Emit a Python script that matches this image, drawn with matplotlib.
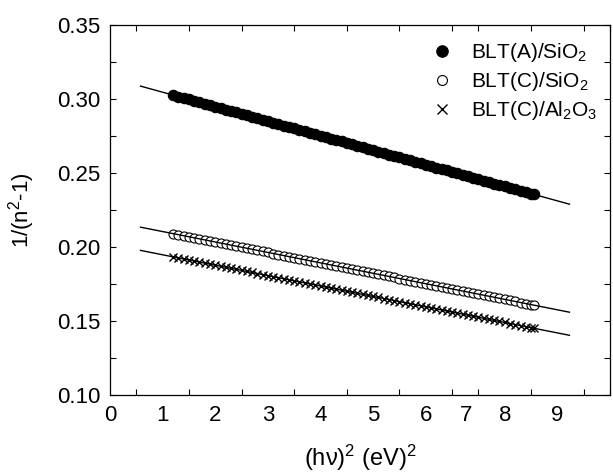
import matplotlib.pyplot as plt
import numpy as np

plt.rcParams['font.family'] = ['Liberation Sans', 'DejaVu Sans']
plt.rcParams['mathtext.fontset'] = 'custom'
plt.rcParams['mathtext.rm'] = 'Liberation Sans'
plt.rcParams['mathtext.it'] = 'Liberation Sans:italic'

# (hv)^2 in eV^2, shared by all three films
hv2 = [1.20, 1.30, 1.40, 1.50, 1.60, 1.70, 1.80, 1.90, 2.00, 2.10,
       2.20, 2.30, 2.40, 2.50, 2.60, 2.70, 2.80, 2.90, 3.00, 3.10,
       3.20, 3.30, 3.40, 3.50, 3.60, 3.70, 3.80, 3.90, 4.00, 4.10,
       4.20, 4.30, 4.40, 4.50, 4.60, 4.70, 4.80, 4.90, 5.00, 5.10,
       5.20, 5.30, 5.40, 5.50, 5.60, 5.70, 5.80, 5.90, 6.00, 6.10,
       6.20, 6.30, 6.40, 6.50, 6.60, 6.70, 6.80, 6.90, 7.00, 7.10,
       7.20, 7.30, 7.40, 7.50, 7.60, 7.70, 7.80, 7.90, 8.00, 8.05]

# 1/(n^2-1)
blt_a_sio2 = [0.3027, 0.3017, 0.3007, 0.2997, 0.2987, 0.2978, 0.2968, 0.2958, 0.2948, 0.2938,
              0.2929, 0.2919, 0.2909, 0.2899, 0.2889, 0.2880, 0.2870, 0.2860, 0.2850, 0.2840,
              0.2831, 0.2821, 0.2811, 0.2801, 0.2792, 0.2782, 0.2772, 0.2762, 0.2752, 0.2743,
              0.2733, 0.2723, 0.2713, 0.2703, 0.2694, 0.2684, 0.2674, 0.2664, 0.2654, 0.2645,
              0.2635, 0.2625, 0.2615, 0.2606, 0.2596, 0.2586, 0.2576, 0.2566, 0.2557, 0.2547,
              0.2537, 0.2527, 0.2517, 0.2508, 0.2498, 0.2488, 0.2478, 0.2468, 0.2459, 0.2449,
              0.2439, 0.2429, 0.2420, 0.2410, 0.2400, 0.2390, 0.2380, 0.2371, 0.2361, 0.2356]

blt_c_sio2 = [0.2090, 0.2083, 0.2076, 0.2069, 0.2062, 0.2055, 0.2048, 0.2041, 0.2034, 0.2027,
              0.2020, 0.2013, 0.2006, 0.1999, 0.1992, 0.1985, 0.1978, 0.1971, 0.1963, 0.1956,
              0.1949, 0.1942, 0.1935, 0.1928, 0.1921, 0.1914, 0.1907, 0.1900, 0.1893, 0.1886,
              0.1879, 0.1872, 0.1865, 0.1858, 0.1851, 0.1844, 0.1837, 0.1830, 0.1823, 0.1815,
              0.1808, 0.1801, 0.1794, 0.1787, 0.1780, 0.1773, 0.1766, 0.1759, 0.1752, 0.1745,
              0.1738, 0.1731, 0.1724, 0.1717, 0.1710, 0.1703, 0.1696, 0.1689, 0.1681, 0.1674,
              0.1667, 0.1660, 0.1653, 0.1646, 0.1639, 0.1632, 0.1625, 0.1618, 0.1611, 0.1607]

blt_c_al2o3 = [0.1934, 0.1926, 0.1919, 0.1912, 0.1905, 0.1898, 0.1891, 0.1884, 0.1877, 0.1870,
               0.1863, 0.1856, 0.1849, 0.1842, 0.1835, 0.1828, 0.1821, 0.1814, 0.1807, 0.1800,
               0.1793, 0.1786, 0.1779, 0.1772, 0.1765, 0.1758, 0.1750, 0.1743, 0.1736, 0.1729,
               0.1722, 0.1715, 0.1708, 0.1701, 0.1694, 0.1687, 0.1680, 0.1673, 0.1666, 0.1659,
               0.1652, 0.1645, 0.1638, 0.1631, 0.1624, 0.1617, 0.1610, 0.1603, 0.1596, 0.1589,
               0.1582, 0.1574, 0.1567, 0.1560, 0.1553, 0.1546, 0.1539, 0.1532, 0.1525, 0.1518,
               0.1511, 0.1504, 0.1497, 0.1490, 0.1483, 0.1476, 0.1469, 0.1462, 0.1455, 0.1451]

labels = ['BLT(A)/SiO$_2$', 'BLT(C)/SiO$_2$', 'BLT(C)/Al$_2$O$_3$']

# extent of the linear fits
fit_range = [0.58, 8.73]

# x tick labels as printed (7, 8, 9 sit off the tick marks in the original)
xlabel_pos = [0, 1, 2, 3, 4, 5, 6, 6.76, 7.5, 8.5]
xlabel_txt = ['0', '1', '2', '3', '4', '5', '6', '7', '8', '9']

fig = plt.figure(figsize=(6.13, 4.73), dpi=100)
ax = fig.add_axes([0.1794, 0.1649, 0.8157, 0.7822])

x = np.array(hv2)
fx = np.array(fit_range)
series = [blt_a_sio2, blt_c_sio2, blt_c_al2o3]
styles = [dict(marker='o', ms=7.5, mfc='black', mec='black', mew=0.8),
          dict(marker='o', ms=6.5, mfc='white', mec='black', mew=0.8),
          dict(marker='x', ms=6, mec='black', mew=1.0)]

for y, st, lab in zip(series, styles, labels):
    ax.plot(x, y, ls='none', label=lab, **st)
    k, b = np.polyfit(x, y, 1)
    ax.plot(fx, k * fx + b, color='black', lw=1.0, zorder=3)

ax.set_xlim(0, 9.5)
ax.set_ylim(0.10, 0.35)

ax.set_xticks(np.arange(0, 9.51, 0.5), minor=True)
ax.set_xticks(xlabel_pos)
ax.set_xticklabels(xlabel_txt)
ax.tick_params(axis='x', which='major', length=0, pad=7)
ax.tick_params(axis='x', which='minor', direction='in', length=4.5, width=0.8,
               top=True, bottom=True)

ax.set_yticks(np.arange(0.10, 0.351, 0.05))
ax.set_yticks(np.arange(0.10, 0.351, 0.025), minor=True)
ax.yaxis.set_major_formatter(plt.FormatStrFormatter('%.2f'))
ax.tick_params(axis='y', which='both', direction='in', length=4.5, width=0.8,
               left=True, right=True, pad=7)
ax.tick_params(labelsize=16)

for s in ax.spines.values():
    s.set_linewidth(0.9)

ax.set_xlabel('(h\u03bd)$^2$ (eV)$^2$', fontsize=17, labelpad=12)
ax.set_ylabel('1/(n$^2$-1)', fontsize=16, labelpad=14)

ax.legend(loc='upper right', frameon=False, fontsize=15, markerscale=1.1,
          handlelength=1.6, handletextpad=0.6, labelspacing=0.3,
          borderaxespad=0.1, bbox_to_anchor=(0.995, 0.985))

fig.savefig('out.png', dpi=100)
